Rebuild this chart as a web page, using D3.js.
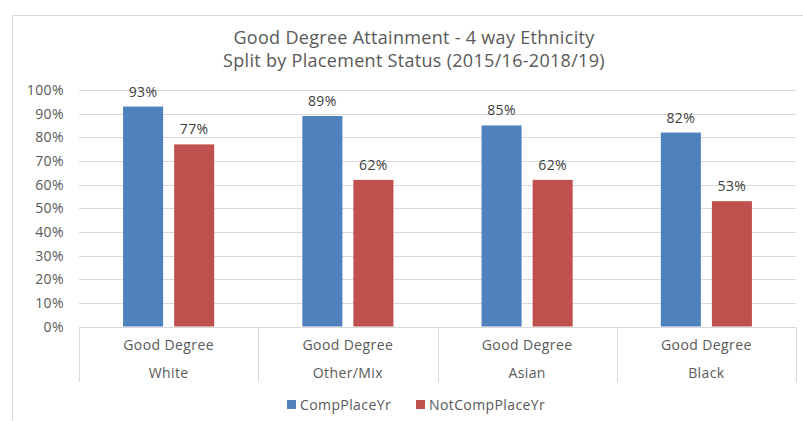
<!DOCTYPE html>
<html>
<head>
<meta charset="utf-8">
<script src="https://cdn.jsdelivr.net/npm/d3@7"></script>
<style>
  body { margin: 0; background: #fff; }
  svg { display: block; font-family: "Open Sans", sans-serif; }
</style>
</head>
<body>
<div id="vis"></div>
<script>
// data
var groups = ["White", "Other/Mix", "Asian", "Black"];
var subLabel = "Good Degree";
var seriesNames = ["CompPlaceYr", "NotCompPlaceYr"];
var compPlace = [0.93, 0.89, 0.85, 0.82];
var notCompPlace = [0.77, 0.62, 0.62, 0.53];
var yTicks = [0, 0.1, 0.2, 0.3, 0.4, 0.5, 0.6, 0.7, 0.8, 0.9, 1];
var titleLines = ["Good Degree Attainment - 4 way Ethnicity", "Split by Placement Status (2015/16-2018/19)"];

var colors = {CompPlaceYr: "#4F81BD", NotCompPlaceYr: "#C0504D"};
var values = {CompPlaceYr: compPlace, NotCompPlaceYr: notCompPlace};

var width = 803, height = 421;
var plot = {left: 79, right: 796, top: 90, bottom: 326.5};
var fs = 14, ls = "0.4px";

var svg = d3.select("#vis").append("svg")
  .attr("width", width).attr("height", height);

// outer chart border (cropped at right/bottom)
svg.append("path")
  .attr("d", "M12.5," + height + "V15.5H" + width)
  .attr("fill", "none").attr("stroke", "#D9D9D9").attr("stroke-width", 1);

// title
svg.append("g").selectAll("text")
  .data(titleLines)
  .join("text")
  .attr("x", 414)
  .attr("y", (d, i) => 44 + i * 22.5)
  .attr("text-anchor", "middle")
  .attr("font-size", 18)
  .attr("letter-spacing", "0.3px")
  .attr("fill", "#595959")
  .text(d => d);

var x0 = d3.scaleBand().domain(groups).range([plot.left, plot.right]).padding(0);
var x1 = d3.scaleBand().domain(seriesNames).range([0, x0.bandwidth()])
  .paddingInner(0.216).paddingOuter(0.863);
var y = d3.scaleLinear().domain([0, 1]).range([plot.bottom, plot.top]);

// gridlines
svg.append("g").selectAll("line")
  .data(yTicks.slice(1))
  .join("line")
  .attr("x1", plot.left).attr("x2", plot.right)
  .attr("y1", d => Math.round(y(d)) + 0.5).attr("y2", d => Math.round(y(d)) + 0.5)
  .attr("stroke", "#D9D9D9");

// y tick labels
svg.append("g").selectAll("text")
  .data(yTicks)
  .join("text")
  .attr("x", 64)
  .attr("y", d => y(d) + 5)
  .attr("text-anchor", "end")
  .attr("font-size", fs)
  .attr("letter-spacing", ls)
  .attr("fill", "#595959")
  .text(d3.format(".0%"));

// bars
var gBars = svg.append("g").selectAll("g")
  .data(groups)
  .join("g")
  .attr("transform", d => "translate(" + x0(d) + ",0)");

gBars.selectAll("rect")
  .data((d, i) => seriesNames.map(s => ({s: s, v: values[s][i]})))
  .join("rect")
  .attr("x", d => x1(d.s))
  .attr("width", x1.bandwidth())
  .attr("y", d => y(d.v))
  .attr("height", d => y(0) - y(d.v))
  .attr("fill", d => colors[d.s]);

gBars.selectAll("text")
  .data((d, i) => seriesNames.map(s => ({s: s, v: values[s][i]})))
  .join("text")
  .attr("x", d => x1(d.s) + x1.bandwidth() / 2)
  .attr("y", d => y(d.v) - 10)
  .attr("text-anchor", "middle")
  .attr("font-size", fs)
  .attr("letter-spacing", ls)
  .attr("fill", "#404040")
  .text(d => d3.format(".0%")(d.v));

// category axis
var axisY = Math.round(y(0)) + 0.5;
svg.append("line")
  .attr("x1", plot.left).attr("x2", plot.right)
  .attr("y1", axisY).attr("y2", axisY)
  .attr("stroke", "#D9D9D9");

svg.append("g").selectAll("line")
  .data(groups.map(g => x0(g)).concat([plot.right]))
  .join("line")
  .attr("x1", d => Math.round(d) + 0.5).attr("x2", d => Math.round(d) + 0.5)
  .attr("y1", axisY).attr("y2", 382)
  .attr("stroke", "#D9D9D9");

var gCats = svg.append("g").selectAll("g")
  .data(groups)
  .join("g")
  .attr("transform", d => "translate(" + (x0(d) + x0.bandwidth() / 2) + ",0)");

gCats.append("text")
  .attr("y", 350)
  .attr("text-anchor", "middle")
  .attr("font-size", fs)
  .attr("letter-spacing", ls)
  .attr("fill", "#595959")
  .text(subLabel);

gCats.append("text")
  .attr("y", 378)
  .attr("text-anchor", "middle")
  .attr("font-size", fs)
  .attr("letter-spacing", ls)
  .attr("fill", "#595959")
  .text(d => d);

// legend
var legendX = [287, 416];
var legend = svg.append("g").selectAll("g")
  .data(seriesNames)
  .join("g")
  .attr("transform", (d, i) => "translate(" + legendX[i] + ",400)");

legend.append("rect")
  .attr("width", 9).attr("height", 9)
  .attr("fill", d => colors[d]);

legend.append("text")
  .attr("x", 13).attr("y", 9.5)
  .attr("font-size", fs)
  .attr("letter-spacing", ls)
  .attr("fill", "#595959")
  .text(d => d);
</script>
</body>
</html>
